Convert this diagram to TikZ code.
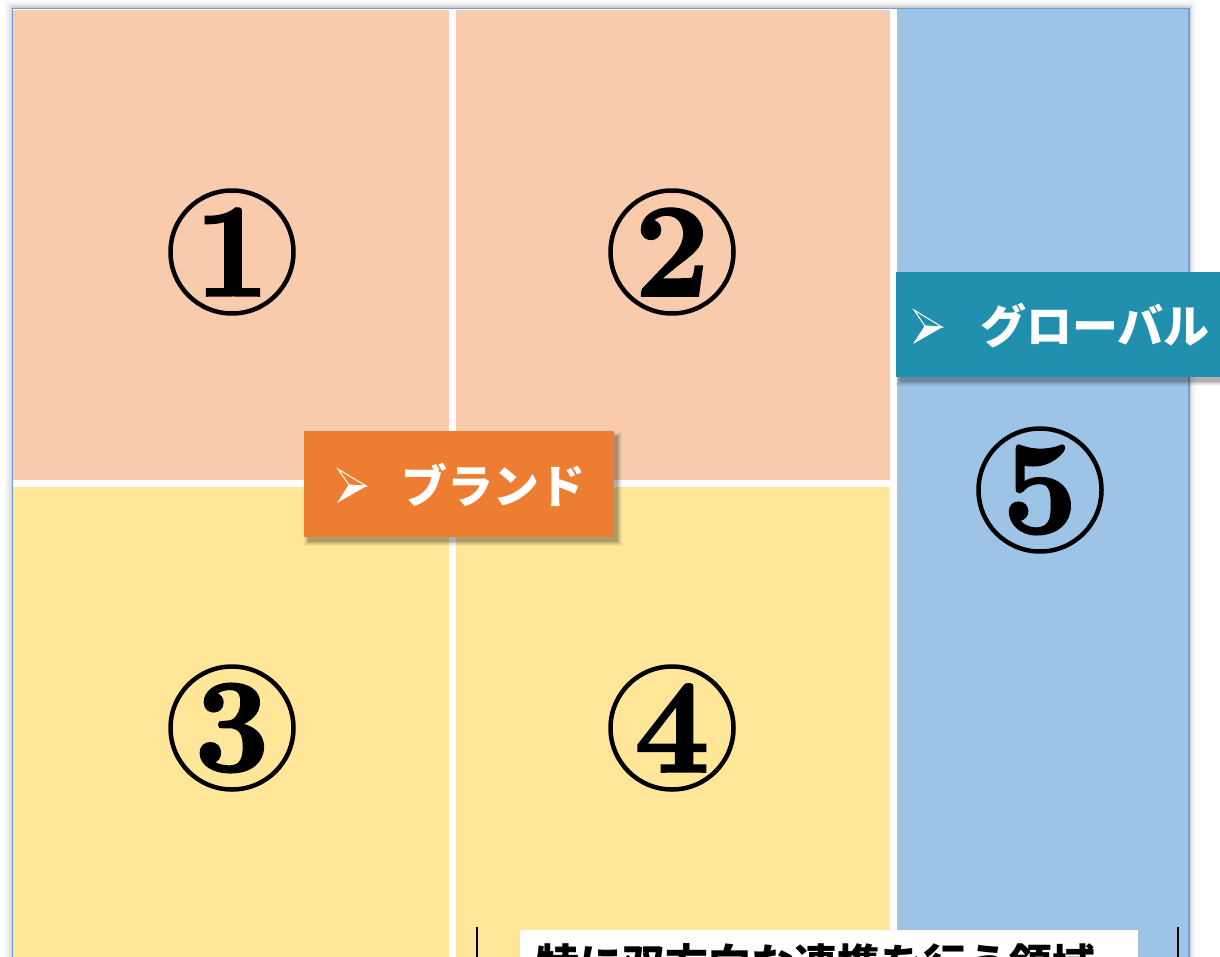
\documentclass[tikz,border=0pt]{standalone}
\usepackage{fontspec}
\newfontfamily\jp{Noto Sans CJK JP}
\newfontfamily\numf{Latin Modern Roman}[BoldFeatures={FakeBold=2.2}]
\definecolor{peach}{RGB}{248,203,173}
\definecolor{yell}{RGB}{255,230,153}
\definecolor{blu}{RGB}{157,195,230}
\definecolor{bord}{RGB}{110,160,218}
\definecolor{orng}{RGB}{237,125,49}
\definecolor{teal}{RGB}{33,143,174}
\tikzset{
  cell/.style={rectangle, inner sep=0pt, draw=none, anchor=north west},
  num/.style={circle, draw=black, line width=4.5pt, minimum size=123pt, inner sep=0pt,
    font=\numf\bfseries\fontsize{132}{132}\selectfont},
  lab/.style={rectangle, inner sep=0pt, draw=none, anchor=north west},
  labtext/.style={anchor=west, inner sep=0pt, text=white, font=\jp\bfseries\fontsize{46}{46}\selectfont},
  brack/.style={line width=2.8pt, black},
  bulletup/.style={draw=white, line width=1pt, line join=miter},
  bulletdn/.style={fill=white, draw=white, line width=0.6pt}
}
\newcommand{\softshadow}[4]{%
  \foreach \e/\o in {4/0.04,3/0.05,2/0.06,1/0.08,0/0.12}
    \fill[black,opacity=\o] (#1+4-\e,#2+5-\e) rectangle (#3+4+\e,#4+5+\e);}
\newcommand{\arrowbullet}[2]{%
  \begin{scope}[shift={(#1,#2)}]
    \draw[bulletup] (0,0) -- (28,17) -- (11,16) -- cycle;
    \filldraw[bulletdn] (11,16) -- (28,17) -- (0,33) -- cycle;
  \end{scope}}
\begin{document}
\begin{tikzpicture}[x=1pt,y=-1pt]
\useasboundingbox (0,0) rectangle (1220,957);
\clip (0,0) rectangle (1220,957);
\fill[white] (0,0) rectangle (1220,957);
% outer soft shadow
\foreach \i/\o in {7/0.025,5/0.035,3/0.05,1.5/0.07}
  \fill[black,opacity=\o] (12-\i,8-\i) rectangle (1189+\i,1000);
\node[cell, fill=white, draw=bord, line width=0.8pt, minimum width=1177pt, minimum height=1000pt] (frame) at (12,8) {};
% cells
\node[cell, fill=peach, minimum width=436pt, minimum height=470pt] (c1) at (13,10) {};
\node[cell, fill=peach, minimum width=434pt, minimum height=470pt] (c2) at (456,10) {};
\node[cell, fill=yell, minimum width=436pt, minimum height=480pt] (c3) at (13,487) {};
\node[cell, fill=yell, minimum width=434pt, minimum height=480pt] (c4) at (456,487) {};
\node[cell, fill=blu, minimum width=291pt, minimum height=960pt] (c5) at (897,9) {};
\draw[bord, line width=1pt] (c5.north east) -- (c5.south east);
% circled numbers
\node[num] (n1) at (232,252) {1};
\node[num] (n2) at (672,252) {2};
\node[num] (n3) at (232,728) {3};
\node[num] (n4) at (672,728) {4};
\node[num] (n5) at (1040,490) {5};
% labels
\softshadow{304}{431}{614}{537}
\node[lab, fill=orng, minimum width=310pt, minimum height=106pt] (brand) at (304,431) {};
\arrowbullet{338}{469}
\node[labtext] (bt) at (401,485) {ブランド};
\softshadow{896}{272}{1236}{377}
\node[lab, fill=teal, minimum width=340pt, minimum height=105pt] (glob) at (896,272) {};
\arrowbullet{914}{310}
\node[labtext] (gt) at (980,326) {グローバル};
% bottom bracket and caption
\coordinate (la) at (477,927);
\coordinate (lb) at (477,970);
\coordinate (ra) at (1178,927);
\coordinate (rb) at (1178,970);
\draw[brack] (la) -- (lb);
\draw[brack] (ra) -- (rb);
\node[cell, fill=white, minimum width=618pt, minimum height=60pt] (wb) at (520,930) {};
\node[anchor=base west, inner sep=0pt, font=\jp\bfseries\fontsize{43}{43}\selectfont] (wt) at (536,980) {特に双方向な連携を行う領域};
\end{tikzpicture}
\end{document}
